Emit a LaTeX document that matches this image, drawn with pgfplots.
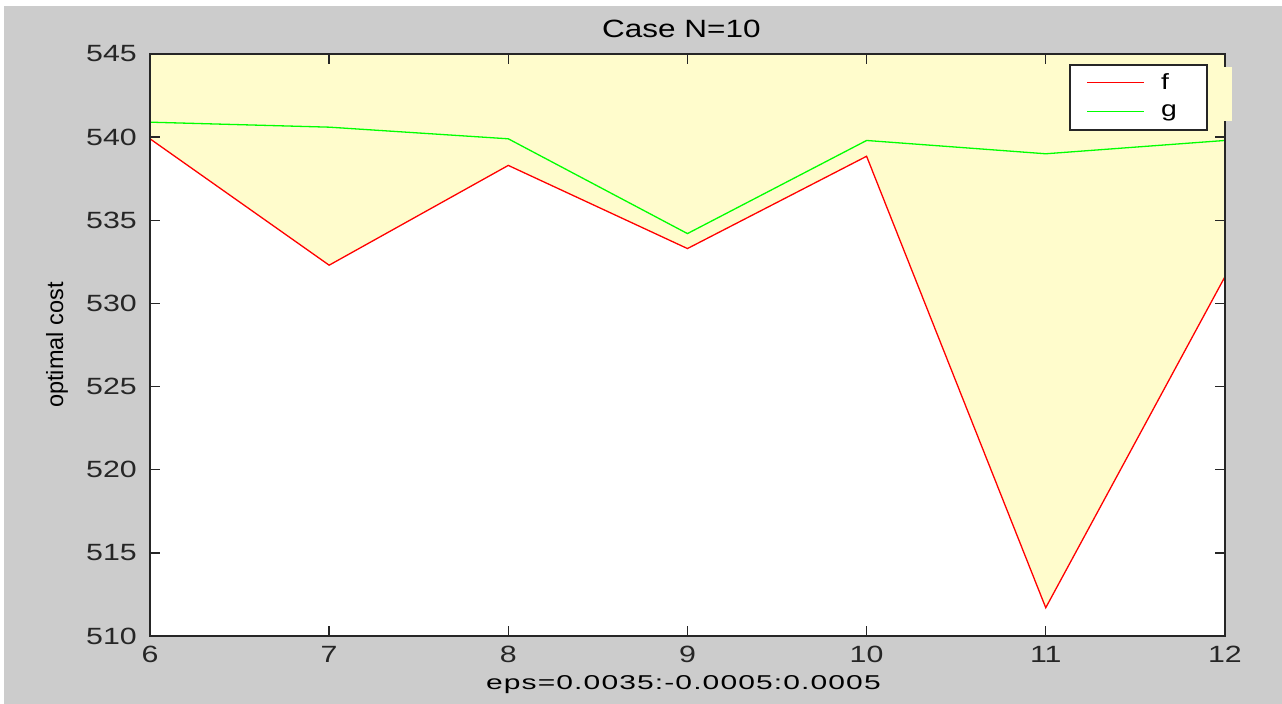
\documentclass[border=0pt]{standalone}
\usepackage{pgfplots}
\pgfplotsset{compat=1.18}
\usepackage{fontspec}
\setmainfont{Liberation Sans}
\newfontfamily\tickfont[FakeStretch=1.29]{Liberation Sans}
\newfontfamily\titlefont[FakeStretch=1.26]{Liberation Sans}
\newfontfamily\xlabfont[FakeStretch=1.5,LetterSpace=5.6]{Liberation Sans}
\definecolor{bgray}{RGB}{204,204,204}
\definecolor{fillyel}{RGB}{255,252,204}
\begin{document}
\begin{tikzpicture}
\fill[white] (-150bp,-68bp) rectangle (1132bp,636bp);
\fill[bgray] (-146bp,-68bp) rectangle (1132bp,630bp);
\begin{axis}[
  at={(0,0)}, anchor=south west,
  scale only axis, width=1075bp, height=582bp,
  xmin=6, xmax=12, ymin=510, ymax=545,
  xtick={6,7,8,9,10,11,12}, ytick={510,515,520,525,530,535,540,545},
  tick align=inside, major tick length=10bp,
  axis on top,
  axis background/.style={fill=white},
  axis line style={line width=1.5bp, draw=black!85},
  every tick/.style={line width=1.3bp, draw=black!85},
  /pgf/number format/assume math mode=true,
  ticklabel style={font=\tickfont\fontsize{23.5bp}{28bp}\selectfont, text=black!85},
  yticklabel style={inner sep=0pt, anchor=east, xshift=-13bp},
  xticklabel style={inner sep=0pt, anchor=north, yshift=-10bp},
  title={Case N=10},
  title style={font=\titlefont\fontsize{25bp}{30bp}\selectfont, at={(axis description cs:0.5,1)}, anchor=base, yshift=11bp, xshift=-6bp, inner sep=0pt},
  xlabel={eps=0.0035:-0.0005:0.0005},
  xlabel style={font=\xlabfont\fontsize{20bp}{24bp}\selectfont, at={(axis description cs:0.5,0)}, anchor=base, yshift=-53bp, xshift=-4bp, inner sep=0pt},
  ylabel={optimal cost},
  ylabel style={font=\fontsize{23.5bp}{28bp}\selectfont, at={(axis description cs:0,0.5)}, anchor=center, yshift=93bp, inner sep=0pt},
  legend style={at={(axis description cs:0.9842,0.9828)}, anchor=north east, draw=black!85, line width=1.5bp, fill=white,
    font=\tickfont\fontsize{22bp}{26bp}\selectfont, inner xsep=0pt, inner ysep=3.5bp, row sep=0pt,
    nodes={inner sep=0pt}, cells={anchor=west}},
]
\addplot[fill=fillyel, draw=none, forget plot] coordinates {
  (6,539.9) (7,532.3) (8,538.3) (9,533.3) (10,538.85) (11,511.7) (12,531.6) (12,545) (6,545)
};
\addplot[red, line width=1.3bp,
  legend image code/.code={\path[draw=none,fill=none] (0bp,-14.5bp) rectangle (91bp,14.5bp); \draw[draw=red, line width=1.3bp] (17bp,0bp) -- (74bp,0bp);}] coordinates {
  (6,539.9) (7,532.3) (8,538.3) (9,533.3) (10,538.85) (11,511.7) (12,531.6)
};
\addlegendentry{\makebox[46bp][l]{f}}
\addplot[green, line width=1.3bp,
  legend image code/.code={\path[draw=none,fill=none] (0bp,-14.5bp) rectangle (91bp,14.5bp); \draw[draw=green, line width=1.3bp] (17bp,0bp) -- (74bp,0bp);}] coordinates {
  (6,540.9) (7,540.6) (8,539.9) (9,534.2) (10,539.8) (11,539.0) (12,539.8)
};
\addlegendentry{\makebox[46bp][l]{g}}
\end{axis}
\fill[fillyel] (1074bp,515bp) rectangle (1082bp,569bp);
\end{tikzpicture}
\end{document}
